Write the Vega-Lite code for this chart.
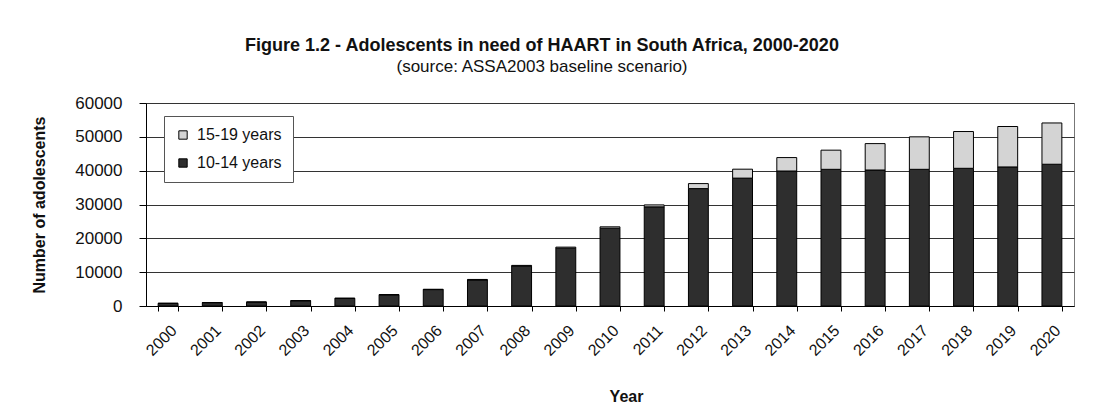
{
  "$schema": "https://vega.github.io/schema/vega-lite/v6.json",
  "autosize": {"type": "none"},
  "width": 928,
  "height": 203,
  "padding": {"left": 146, "top": 103, "right": 38, "bottom": 111},
  "background": "white",
  "title": {
    "text": "Figure 1.2 - Adolescents in need of HAART in South Africa, 2000-2020",
    "subtitle": "(source: ASSA2003 baseline scenario)",
    "font": "Liberation Sans",
    "fontSize": 18,
    "fontWeight": "bold",
    "color": "#111111",
    "subtitleFont": "Liberation Sans",
    "subtitleFontSize": 17,
    "subtitleColor": "#111111",
    "subtitlePadding": 4,
    "anchor": "middle",
    "dx": -68,
    "offset": 19
  },
  "data": {
    "values": [
      {"year": "2000", "group": "10-14 years", "n": 780},
      {"year": "2000", "group": "15-19 years", "n": 20},
      {"year": "2001", "group": "10-14 years", "n": 1000},
      {"year": "2001", "group": "15-19 years", "n": 20},
      {"year": "2002", "group": "10-14 years", "n": 1150},
      {"year": "2002", "group": "15-19 years", "n": 30},
      {"year": "2003", "group": "10-14 years", "n": 1550},
      {"year": "2003", "group": "15-19 years", "n": 40},
      {"year": "2004", "group": "10-14 years", "n": 2250},
      {"year": "2004", "group": "15-19 years", "n": 50},
      {"year": "2005", "group": "10-14 years", "n": 3300},
      {"year": "2005", "group": "15-19 years", "n": 80},
      {"year": "2006", "group": "10-14 years", "n": 4850},
      {"year": "2006", "group": "15-19 years", "n": 100},
      {"year": "2007", "group": "10-14 years", "n": 7700},
      {"year": "2007", "group": "15-19 years", "n": 150},
      {"year": "2008", "group": "10-14 years", "n": 11800},
      {"year": "2008", "group": "15-19 years", "n": 200},
      {"year": "2009", "group": "10-14 years", "n": 17100},
      {"year": "2009", "group": "15-19 years", "n": 300},
      {"year": "2010", "group": "10-14 years", "n": 23000},
      {"year": "2010", "group": "15-19 years", "n": 400},
      {"year": "2011", "group": "10-14 years", "n": 29300},
      {"year": "2011", "group": "15-19 years", "n": 580},
      {"year": "2012", "group": "10-14 years", "n": 34700},
      {"year": "2012", "group": "15-19 years", "n": 1480},
      {"year": "2013", "group": "10-14 years", "n": 37800},
      {"year": "2013", "group": "15-19 years", "n": 2640},
      {"year": "2014", "group": "10-14 years", "n": 39900},
      {"year": "2014", "group": "15-19 years", "n": 3970},
      {"year": "2015", "group": "10-14 years", "n": 40400},
      {"year": "2015", "group": "15-19 years", "n": 5660},
      {"year": "2016", "group": "10-14 years", "n": 40200},
      {"year": "2016", "group": "15-19 years", "n": 7800},
      {"year": "2017", "group": "10-14 years", "n": 40400},
      {"year": "2017", "group": "15-19 years", "n": 9600},
      {"year": "2018", "group": "10-14 years", "n": 40700},
      {"year": "2018", "group": "15-19 years", "n": 10870},
      {"year": "2019", "group": "10-14 years", "n": 41100},
      {"year": "2019", "group": "15-19 years", "n": 11950},
      {"year": "2020", "group": "10-14 years", "n": 41900},
      {"year": "2020", "group": "15-19 years", "n": 12200}
    ]
  },
  "mark": {"type": "bar", "stroke": "black", "strokeWidth": 1},
  "encoding": {
    "x": {
      "field": "year",
      "type": "ordinal",
      "title": "Year",
      "scale": {"paddingInner": 0.55, "paddingOuter": 0.275},
      "axis": {
        "labelAngle": -45,
        "labelFontSize": 16,
        "labelPadding": 11,
        "tickSize": 5,
        "tickBand": "extent",
        "titleFontSize": 16,
        "titleFontWeight": "bold",
        "titleX": 480,
        "titleY": 82,
        "grid": false
      }
    },
    "y": {
      "field": "n",
      "type": "quantitative",
      "stack": "zero",
      "title": "Number of adolescents",
      "scale": {"domain": [0, 60000], "nice": false},
      "axis": {
        "values": [0, 10000, 20000, 30000, 40000, 50000, 60000],
        "format": "d",
        "labelFontSize": 17,
        "labelPadding": 17,
        "tickSize": 7,
        "titleFontSize": 16,
        "titleFontWeight": "bold",
        "titlePadding": 27,
        "grid": true,
        "gridColor": "#333333",
        "gridWidth": 1
      }
    },
    "color": {
      "field": "group",
      "type": "nominal",
      "scale": {"domain": ["15-19 years", "10-14 years"], "range": ["#d4d4d4", "#2e2e2e"]},
      "legend": {
        "orient": "none",
        "legendX": 18,
        "legendY": 13,
        "title": null,
        "fillColor": "white",
        "strokeColor": "#555555",
        "padding": 11,
        "labelFontSize": 16,
        "labelFont": "Liberation Sans",
        "labelColor": "#111111",
        "labelOffset": 6,
        "symbolType": "square",
        "symbolSize": 70,
        "symbolStrokeColor": "black",
        "symbolStrokeWidth": 1,
        "rowPadding": 12
      }
    },
    "order": {"field": "group", "sort": "ascending"}
  },
  "config": {
    "font": "Liberation Sans",
    "view": {"stroke": "#777777"},
    "axis": {
      "domainColor": "black",
      "tickColor": "black",
      "labelColor": "#111111",
      "titleColor": "#111111",
      "labelFont": "Liberation Sans",
      "titleFont": "Liberation Sans"
    }
  }
}
